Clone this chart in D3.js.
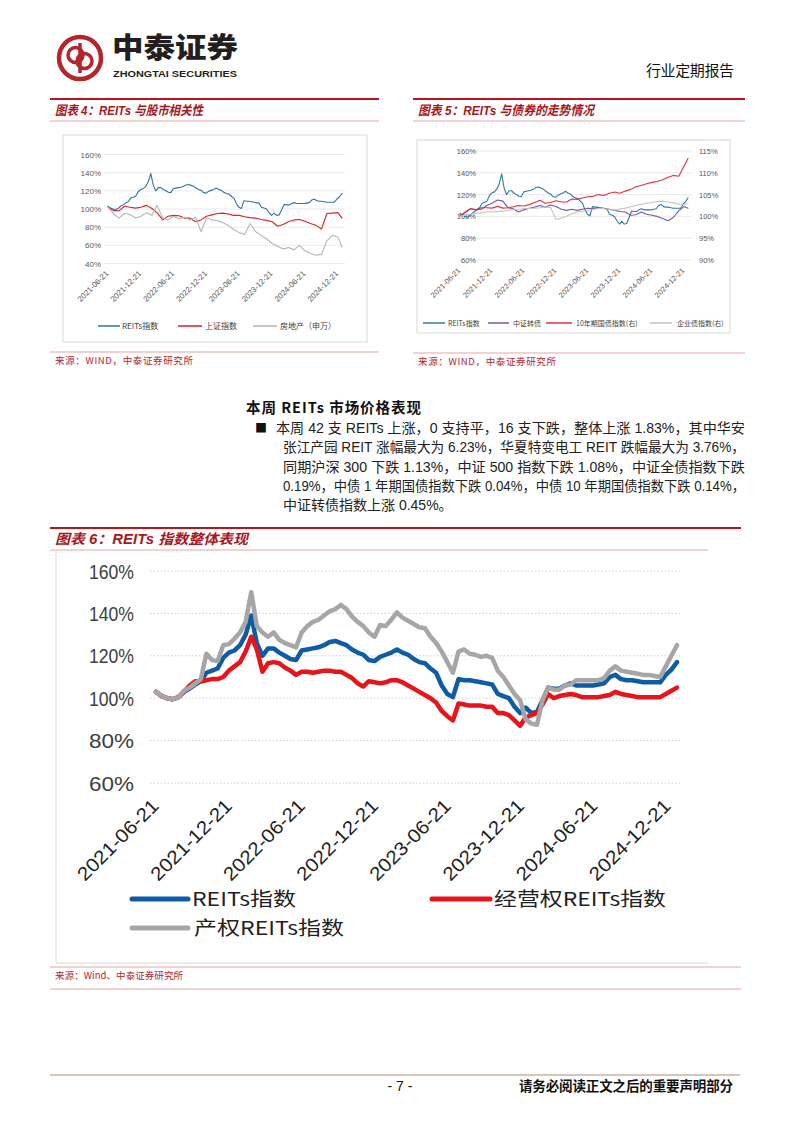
<!DOCTYPE html>
<html><head><meta charset="utf-8">
<script src="https://cdn.jsdelivr.net/npm/d3@7"></script>
<style>
html,body{margin:0;padding:0;background:#fff;}
svg{display:block;}
</style></head><body>
<svg id="page" width="802" height="1133"></svg>
<script>
// ---------------- DATA ----------------
const tickLabels = ["2021-06-21","2021-12-21","2022-06-21","2022-12-21","2023-06-21","2023-12-21","2024-06-21","2024-12-21"];
const startStr = "2021-06-21";
const endStr = "2025-01-13";

// Chart 6 (biweekly sampling), values in %
const reitsIdx = [103,101,100,99.5,100.5,103,104.5,106.5,108,112,113,114,119,121.5,122.5,125,130,139,126,120,123.5,123.5,121.5,120,118.5,118,122.5,123,123.5,124,125,126.5,127,126,125,123,121.5,120.5,118,117.5,119.5,120.5,121.5,123,121.5,120.5,118.5,117,116.5,114,112,106,102,100.5,109,108.5,108.5,108,107.5,107,106.5,102,101,100,96,93,95.5,93,93.5,99,105,104.5,104.5,106,107,106,106,106,106,106.5,107,110,111,109,108.5,108.5,108,107.5,107.5,107.5,107.5,111,113.5,117];
const opRightIdx = [103,101,100,99.5,100.5,103,106,108,108,108.5,109,109,110,113,115,117,122,129,123,112.5,116.5,117,116.5,114.5,113,111,112.5,112.5,112,112.5,113,113,112.5,112.5,111,109.5,107,105.5,108,107.5,107,107.5,108.5,108.5,107.5,106,104.5,103,101.5,100,98,94,91.5,89.5,97.5,97,96.5,96.5,96.5,96,96,93,93,92,89.5,87,91,92,93,97,102,100,101,101.5,102,101.5,100.5,100.5,100.5,100.5,101,101.5,103,102,101.5,101,100.5,100.5,100.5,100.5,100.5,102,103.5,105];
const propRightIdx = [103,101,100,99.5,100.5,103.5,105,107,109,121,118,117.5,125,125.5,128,131,136,150,134,131,129,131,127.5,126,125,124,131,134,136,137,139,141,142,144,142,138.5,136,134,131,129,134.5,134,137,140.5,138,136.5,135,133.5,133,129,126,122,117,112,122,123,121,120.5,119.5,120,119,113,110,106,102,99,90,88,87.5,99,105,104,104,106,106.5,108.5,108.5,108.5,108.5,108.5,109.5,113,115,113,112.5,112,111.5,111,111,110.5,110,115,120,125];

// Chart 4 (monthly sampling)
const shIdx = [102,98.5,98,103,102,101,102,104,100.5,96,88,92,93,92.5,90,90,86,88,92,93.5,95,95.5,94.5,93,93,91.5,90.5,90,88.5,87.5,86,81,83,86,88,88.5,86.5,84,82,78,95,95.5,96,90];
const realEstateIdx = [102,95,90,95,94,90,92,96,93,104,90,88,92,89,91,88,91,75,90,88,87,85,82,77.5,74,72,84,75,71,67,62,59,56,57.5,55,60,54,51,49,50,65,71,69,58];

// Chart 5 (monthly sampling)
const cbIdx = [101,103.5,107,106,106.5,110,112,115,114,108,107,104,106,107.5,108.5,110,108.5,110.5,109,106.5,105.5,106.5,105.5,106.5,107.5,107,108,107.5,106.5,105.5,104.5,104,101,101.5,104,102,101,100,98,96,99,105,109,107.5];
const gov10Idx = [100,101,101.8,101.5,102,102,101.9,102.3,101.9,102,102.2,102.5,102.4,102.7,103.2,103.7,103,103.2,103.6,103.3,103.3,104,103.9,104.2,104.5,104.6,105,104.8,105.3,105.6,105.3,105.8,106.2,106.8,107.1,107.5,107.8,108,108.4,109,109.4,109.2,111.5,113.3];
const corpIdx = [100,100.3,100.5,100.7,100.8,101,101,101.1,101.2,101.4,101.5,101.6,101.8,101.8,101.9,102,102.2,102,99.3,99.6,100.1,100.6,101,101.2,101.4,101.6,101.8,101.8,101.6,101.4,101.7,101.9,102.2,102.5,102.8,103,103.2,103.4,103.5,103.3,103.1,102.8,102.8,102.9];

const yTicks6 = [60,80,100,120,140,160];
const yTicks4 = [40,60,80,100,120,140,160];
const yTicks5L = [60,80,100,120,140,160];
const yTicks5R = [90,95,100,105,110,115];

const legend4 = ["REITs指数","上证指数","房地产（申万）"];
const legend5 = ["REITs指数","中证转债","10年期国债指数(右)","企业债指数(右)"];
const legend6 = ["REITs指数","经营权REITs指数","产权REITs指数"];

// ---------------- SETUP ----------------
const parse = d3.timeParse("%Y-%m-%d");
const t0 = parse(startStr), t1 = parse(endStr);
const dates6 = d3.range(reitsIdx.length).map(i => d3.timeDay.offset(t0, 14*i));
const datesM = d3.range(shIdx.length - 1).map(i => d3.timeMonth.offset(t0, i)).concat([t1]);
const tickDates = tickLabels.map(parse);

const CJK = "'Noto Sans CJK SC', sans-serif";
const LAT = "'Liberation Sans', 'Noto Sans CJK SC', sans-serif";
const svg = d3.select("#page");

function line(g, x, y, dates, vals, color, w) {
  const gen = d3.line().x((d,i)=>x(dates[i])).y(d=>y(d));
  g.append("path").datum(vals).attr("d", gen).attr("fill","none")
    .attr("stroke", color).attr("stroke-width", w).attr("stroke-linejoin","round").attr("stroke-linecap","round");
}
function hline(x1,x2,y,color,w){ svg.append("line").attr("x1",x1).attr("x2",x2).attr("y1",y).attr("y2",y).attr("stroke",color).attr("stroke-width",w); }

// ---------------- HEADER ----------------
const logo = svg.append("g").attr("transform","translate(80,58)");
logo.append("circle").attr("r",21).attr("fill","none").attr("stroke","#B3262C").attr("stroke-width",4.5);
logo.append("circle").attr("cx",-4.5).attr("cy",-3).attr("r",7.5).attr("fill","none").attr("stroke","#B3262C").attr("stroke-width",3.5);
logo.append("circle").attr("cx",4.5).attr("cy",3).attr("r",7.5).attr("fill","none").attr("stroke","#B3262C").attr("stroke-width",3.5);
logo.append("line").attr("x1",0).attr("x2",0).attr("y1",-15).attr("y2",15).attr("stroke","#B3262C").attr("stroke-width",3.5);
svg.append("text").attr("x",112).attr("y",58).text("中泰证券").attr("font-family",CJK).attr("font-weight",900)
  .attr("font-size",28).attr("fill","#231F20").attr("textLength",126).attr("lengthAdjust","spacingAndGlyphs");
svg.append("text").attr("x",113).attr("y",77).text("ZHONGTAI SECURITIES").attr("font-family",LAT).attr("font-weight","bold")
  .attr("font-size",9.5).attr("fill","#231F20").attr("textLength",124).attr("lengthAdjust","spacingAndGlyphs");
svg.append("text").attr("x",646).attr("y",76).text("行业定期报告").attr("font-family",CJK)
  .attr("font-size",15).attr("fill","#111").attr("textLength",88);

// ---------------- TITLE BLOCKS ----------------
function titleBlock(x0, x1, y, label, len, fs, lowerEnd) {
  hline(x0, x1, y, "#C0141C", 2);
  svg.append("text").attr("x", x0+5).attr("y", y+16).text(label)
    .attr("font-family", LAT).attr("font-weight","bold").attr("font-style","italic")
    .attr("font-size", fs).attr("fill","#A8171D").attr("textLength", len).attr("lengthAdjust","spacingAndGlyphs");
  hline(x0, lowerEnd || x1, y+22, "#E9A5A5", 1);
}
function sourceBlock(x0, x1, y, label, len) {
  hline(x0, x1, y, "#E9A5A5", 1.2);
  svg.append("text").attr("x", x0+5).attr("y", y+12).text(label)
    .attr("font-family", CJK).attr("font-size", 9.5).attr("fill","#B0282E").attr("textLength", len);
}
titleBlock(50, 379, 99, "图表 4：REITs 与股市相关性", 148, 13);
titleBlock(413, 745, 99, "图表 5：REITs 与债券的走势情况", 176, 13);
titleBlock(50, 741, 528, "图表 6：REITs 指数整体表现", 193, 14, 708);

// ---------------- CHART 4 ----------------
svg.append("rect").attr("x",63).attr("y",135).attr("width",304).attr("height",207).attr("fill","none").attr("stroke","#D9D9D9").attr("stroke-width",1);
const g4 = svg.append("g");
const x4 = d3.scaleTime().domain([t0,t1]).range([108, 342]);
const y4 = d3.scaleLinear().domain([40,160]).range([263.5,154.5]);
yTicks4.forEach(v => {
  g4.append("line").attr("x1",104).attr("x2",345).attr("y1",y4(v)).attr("y2",y4(v)).attr("stroke","#E4E4E4").attr("stroke-width",0.8);
  g4.append("text").attr("x",101).attr("y",y4(v)+3).attr("text-anchor","end").text(v+"%")
    .attr("font-family",LAT).attr("font-size",8).attr("fill","#595959");
});
tickDates.forEach((d,i) => {
  g4.append("text").attr("transform",`translate(${x4(d)+1},${274}) rotate(-45)`).attr("text-anchor","end")
    .text(tickLabels[i]).attr("font-family",LAT).attr("font-size",7.8).attr("fill","#595959");
});
line(g4, x4, y4, dates6, reitsIdx, "#3470A6", 1.1);
line(g4, x4, y4, datesM, shIdx, "#D8232A", 1.1);
line(g4, x4, y4, datesM, realEstateIdx, "#B4B4B4", 1.1);
[[98,120,122,"#3470A6"],[178,202,205,"#D8232A"],[253,277,280,"#B4B4B4"]].forEach((l,i)=>{
  g4.append("line").attr("x1",l[0]).attr("x2",l[1]).attr("y1",326).attr("y2",326).attr("stroke",l[3]).attr("stroke-width",1.5);
  g4.append("text").attr("x",l[2]).attr("y",329).text(legend4[i]).attr("font-family",CJK).attr("font-size",8)
    .attr("fill","#404040");
});
sourceBlock(50, 379, 352, "来源：WIND，中泰证券研究所", 138);

// ---------------- CHART 5 ----------------
svg.append("rect").attr("x",417).attr("y",140).attr("width",313).attr("height",193).attr("fill","none").attr("stroke","#D9D9D9").attr("stroke-width",1);
const g5 = svg.append("g");
const x5 = d3.scaleTime().domain([t0,t1]).range([460, 688]);
const y5L = d3.scaleLinear().domain([60,160]).range([260,151]);
const y5R = d3.scaleLinear().domain([90,115]).range([260,151]);
yTicks5L.forEach(v => {
  g5.append("line").attr("x1",458).attr("x2",692).attr("y1",y5L(v)).attr("y2",y5L(v)).attr("stroke","#E4E4E4").attr("stroke-width",0.8);
  g5.append("text").attr("x",476).attr("y",y5L(v)+3).attr("text-anchor","end").text(v+"%")
    .attr("font-family",LAT).attr("font-size",7.5).attr("fill","#595959");
});
yTicks5R.forEach(v => {
  g5.append("text").attr("x",699).attr("y",y5R(v)+3).text(v+"%")
    .attr("font-family",LAT).attr("font-size",7.5).attr("fill","#595959");
});
tickDates.forEach((d,i) => {
  g5.append("text").attr("transform",`translate(${x5(d)+1},${271}) rotate(-45)`).attr("text-anchor","end")
    .text(tickLabels[i]).attr("font-family",LAT).attr("font-size",7.5).attr("fill","#595959");
});
line(g5, x5, y5L, dates6, reitsIdx, "#2B7BA6", 1.1);
line(g5, x5, y5L, datesM, cbIdx, "#7A55A6", 1.1);
line(g5, x5, y5R, datesM, gov10Idx, "#E4323C", 1.1);
line(g5, x5, y5R, datesM, corpIdx, "#C4C4C4", 1.1);
[[423,445,448,"#2B7BA6"],[488,509,513,"#7A55A6"],[546,572,576,"#E4323C"],[650,672,677,"#C4C4C4"]].forEach((l,i)=>{
  g5.append("line").attr("x1",l[0]).attr("x2",l[1]).attr("y1",323).attr("y2",323).attr("stroke",l[3]).attr("stroke-width",1.5);
  g5.append("text").attr("x",l[2]).attr("y",326).text(legend5[i]).attr("font-family",CJK).attr("font-size",7)
    .attr("fill","#404040");
});
sourceBlock(413, 745, 353, "来源：WIND，中泰证券研究所", 138);

// ---------------- TEXT BLOCK ----------------
svg.append("text").attr("x",246).attr("y",413).text("本周 REITs 市场价格表现").attr("font-family",CJK)
  .attr("font-weight","bold").attr("font-size",14.5).attr("fill","#111").attr("textLength",175);
svg.append("text").attr("x",255).attr("y",433).text("■").attr("font-family",CJK).attr("font-size",12).attr("fill","#111");
const para = [
  ["本周 42 支 REITs 上涨，0 支持平，16 支下跌，整体上涨 1.83%，其中华安", 276, 469],
  ["张江产园 REIT 涨幅最大为 6.23%，华夏特变电工 REIT 跌幅最大为 3.76%，", 283, 462],
  ["同期沪深 300 下跌 1.13%，中证 500 指数下跌 1.08%，中证全债指数下跌", 283, 462],
  ["0.19%，中债 1 年期国债指数下跌 0.04%，中债 10 年期国债指数下跌 0.14%，", 283, 462],
  ["中证转债指数上涨 0.45%。", 283, 0]
];
para.forEach((p,i) => {
  const t = svg.append("text").attr("x",p[1]).attr("y",433 + i*19.3).text(p[0]).attr("font-family",LAT)
    .attr("font-size",14).attr("fill","#222");
  if (p[2]) t.attr("textLength",p[2]).attr("lengthAdjust","spacingAndGlyphs");
});

// ---------------- CHART 6 ----------------
svg.append("line").attr("x1",56).attr("x2",56).attr("y1",550).attr("y2",963).attr("stroke","#D9D9D9");
svg.append("line").attr("x1",56).attr("x2",708).attr("y1",963).attr("y2",963).attr("stroke","#D9D9D9");
const g6 = svg.append("g");
const x6 = d3.scaleTime().domain([t0,t1]).range([156, 677]);
const y6 = d3.scaleLinear().domain([60,160]).range([783,571]);
yTicks6.forEach(v => {
  g6.append("line").attr("x1",150).attr("x2",680).attr("y1",y6(v)).attr("y2",y6(v))
    .attr("stroke","#CFCFCF").attr("stroke-width",1).attr("stroke-dasharray","1.5,2");
  g6.append("text").attr("x",134).attr("y",y6(v)+7.5).attr("text-anchor","end").text(v+"%")
    .attr("font-family",LAT).attr("font-size",20).attr("fill","#404040")
    .attr("textLength",45).attr("lengthAdjust","spacingAndGlyphs");
});
tickDates.forEach((d,i) => {
  g6.append("text").attr("transform",`translate(${x6(d)+4},${807}) rotate(-45)`).attr("text-anchor","end")
    .text(tickLabels[i]).attr("font-family",LAT).attr("font-size",19).attr("fill","#222")
    .attr("textLength",106).attr("lengthAdjust","spacingAndGlyphs");
});
line(g6, x6, y6, dates6, reitsIdx, "#0E5CA8", 4.5);
line(g6, x6, y6, dates6, opRightIdx, "#E8141B", 4.5);
line(g6, x6, y6, dates6, propRightIdx, "#A6A6A6", 4.5);
[[132,188,192,104,"#0E5CA8",899],[432,490,494,172,"#E8141B",899],[132,188,194,150,"#A6A6A6",928]].forEach((l,i)=>{
  g6.append("line").attr("x1",l[0]).attr("x2",l[1]).attr("y1",l[5]).attr("y2",l[5]).attr("stroke",l[4]).attr("stroke-width",5).attr("stroke-linecap","round");
  g6.append("text").attr("x",l[2]).attr("y",l[5]+7).text(legend6[i]).attr("font-family",CJK).attr("font-size",19)
    .attr("fill","#222").attr("textLength",l[3]).attr("lengthAdjust","spacingAndGlyphs");
});
sourceBlock(50, 741, 967, "来源：Wind、中泰证券研究所", 128);
hline(50, 741, 989, "#E9A5A5", 1.2);

// ---------------- FOOTER ----------------
hline(50, 740, 1075, "#CDB29E", 1.5);
svg.append("text").attr("x",400).attr("y",1091).attr("text-anchor","middle").text("- 7 -")
  .attr("font-family",LAT).attr("font-size",14).attr("fill","#111");
svg.append("text").attr("x",519).attr("y",1091).text("请务必阅读正文之后的重要声明部分")
  .attr("font-family",CJK).attr("font-weight","bold").attr("font-size",13.5).attr("fill","#111").attr("textLength",214);
</script></body></html>
